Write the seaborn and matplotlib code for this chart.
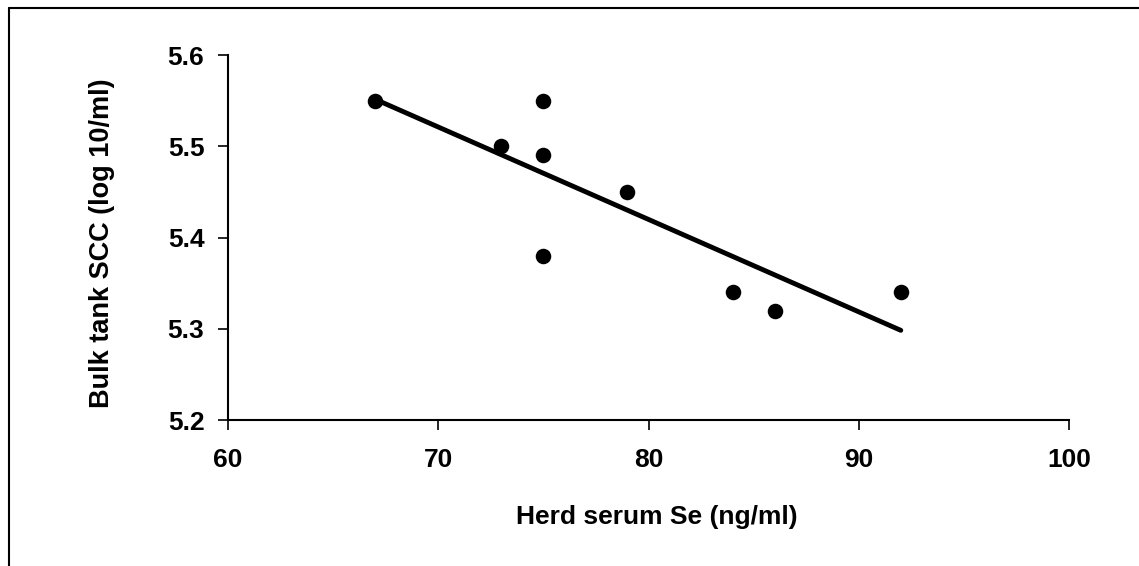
import matplotlib
matplotlib.use("Agg")
import matplotlib.pyplot as plt
import seaborn as sns
import pandas as pd
from matplotlib.lines import Line2D

serum_se = [67, 73, 75, 75, 75, 79, 84, 86, 92]
bulk_scc = [5.55, 5.50, 5.55, 5.49, 5.38, 5.45, 5.34, 5.32, 5.34]
x_ticks = [60, 70, 80, 90, 100]
y_ticks = [5.2, 5.3, 5.4, 5.5, 5.6]

df = pd.DataFrame({"se": serum_se, "scc": bulk_scc})

sns.set_style("white")
plt.rcParams['font.family'] = ['Liberation Sans', 'DejaVu Sans']
plt.rcParams['text.color'] = 'black'
plt.rcParams['axes.labelcolor'] = 'black'
plt.rcParams['xtick.color'] = 'black'
plt.rcParams['ytick.color'] = 'black'

fig = plt.figure(figsize=(11.39, 5.66), dpi=100)
ax = fig.add_axes([228/1139, 1 - 420/566, (1069-228)/1139, (420-55)/566])

sns.regplot(data=df, x="se", y="scc", ax=ax, ci=None, truncate=True,
            scatter=False, line_kws=dict(color="black", lw=3.5, solid_capstyle="round"))
sns.scatterplot(data=df, x="se", y="scc", ax=ax, color="black", s=125,
                edgecolor="black", linewidth=0, zorder=5)

ax.set_xlim(60, 100)
ax.set_ylim(5.2, 5.6)
ax.set_xticks(x_ticks)
ax.set_yticks(y_ticks)
ax.set_xticklabels([str(v) for v in x_ticks])
ax.set_yticklabels([f"{v:.1f}" for v in y_ticks])
for s in ["top", "right"]:
    ax.spines[s].set_visible(False)
for s in ["left", "bottom"]:
    ax.spines[s].set_color("black")
    ax.spines[s].set_linewidth(1.5)
ax.tick_params(axis="both", direction="out", length=7, width=1.2, colors="black",
               labelcolor="black", labelsize=19, left=True, bottom=True)
ax.tick_params(axis="x", pad=13)
ax.tick_params(axis="y", pad=10)
for lab in ax.get_xticklabels() + ax.get_yticklabels():
    lab.set_fontweight("bold")
ax.set_xlabel("Herd serum Se (ng/ml)", fontsize=19, fontweight="bold", labelpad=24,
              color="black", x=0.51)
ax.set_ylabel("Bulk tank SCC (log 10/ml)", fontsize=19.5, fontweight="bold", labelpad=38,
              color="black", y=0.484)

# outer frame (top and left edges visible)
fig.add_artist(Line2D([8.5/1139, 8.5/1139], [0, 1 - 7.5/566], transform=fig.transFigure,
                      color="black", lw=1.5))
fig.add_artist(Line2D([8.5/1139, 1], [1 - 7.5/566, 1 - 7.5/566], transform=fig.transFigure,
                      color="black", lw=1.5))

fig.savefig("out.png", dpi=100)
